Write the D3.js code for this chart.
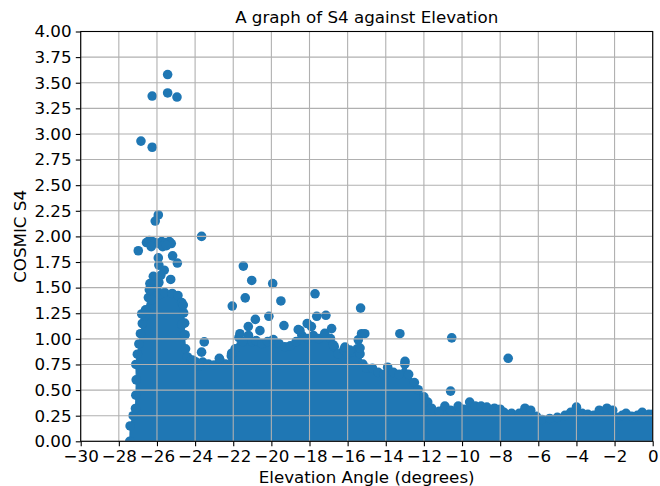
<!DOCTYPE html>
<html>
<head>
<meta charset="utf-8">
<script src="https://cdn.jsdelivr.net/npm/d3@7"></script>
<style>
  html, body { margin: 0; padding: 0; background: #fff; }
  svg { display: block; }
  text { font-family: "DejaVu Sans", sans-serif; fill: #000; }
</style>
</head>
<body>
<div id="chart"></div>
<script>
// ---------------- data ----------------
const titleText = "A graph of S4 against Elevation";
const xLabelText = "Elevation Angle (degrees)";
const yLabelText = "COSMIC S4";

const xTickValues = [-30, -28, -26, -24, -22, -20, -18, -16, -14, -12, -10, -8, -6, -4, -2, 0];
const yTickValues = [0, 0.25, 0.5, 0.75, 1, 1.25, 1.5, 1.75, 2, 2.25, 2.5, 2.75, 3, 3.25, 3.5, 3.75, 4];

// outline of the dense body of points: left edge (bottom to top)
const leftEdgeX = [-27.68, -27.66, -27.5, -27.38, -27.36, -27.34, -27.36, -27.28, -27.2, -27.12, -27.02, -26.9];
const leftEdgeY = [0, 0.15, 0.25, 0.32, 0.45, 0.6, 0.75, 0.85, 0.95, 1.05, 1.15, 1.22];

// upper edge of the dense body (left to right)
const topX = [-26.8, -26.6, -26.45, -26.35, -26.2, -26.0, -25.85, -25.6, -25.2, -24.9, -24.7, -24.6, -24.55, -24.55, -24.5, -24.4, -24.2, -23.95, -23.8, -23.6,
  -23.3, -23.0, -22.7, -22.4, -22.1, -21.9, -21.7, -21.5, -21.2, -21.0, -20.8, -20.5, -20.2, -19.9, -19.6, -19.3, -19.0, -18.7, -18.4, -18.1,
  -17.8, -17.5, -17.2, -16.9, -16.7, -16.5, -16.2, -16.0, -15.8, -15.5, -15.35, -15.2, -15.0, -14.7, -14.4, -14.1, -13.9, -13.6, -13.3, -13.0,
  -12.8, -12.5, -12.3, -12.0, -11.8, -11.6, -11.2, -10.9, -10.6, -10.2, -9.9, -9.6, -9.3, -9.0, -8.7, -8.3, -8.0, -7.8, -7.4, -7.0,
  -6.7, -6.4, -6.1, -5.8, -5.4, -5.0, -4.6, -4.3, -4.0, -3.7, -3.4, -3.1, -2.8, -2.4, -2.1, -1.9, -1.6, -1.4, -1.1, -0.8, -0.55, -0.2, 0];
const topY = [1.29, 1.33, 1.45, 1.52, 1.58, 1.55, 1.48, 1.50, 1.49, 1.47, 1.40, 1.30, 1.20, 1.08, 0.95, 0.87, 0.84, 0.82, 0.78, 0.82,
  0.80, 0.79, 0.84, 0.80, 0.88, 0.95, 1.06, 1.02, 1.08, 1.02, 1.03, 1.00, 1.02, 1.04, 1.00, 0.97, 0.98, 1.02, 1.08, 1.05,
  1.08, 1.05, 1.10, 1.05, 0.97, 0.90, 0.94, 0.90, 0.92, 0.95, 0.90, 0.80, 0.76, 0.76, 0.72, 0.70, 0.77, 0.72, 0.70, 0.80,
  0.70, 0.62, 0.55, 0.48, 0.43, 0.37, 0.34, 0.39, 0.35, 0.39, 0.36, 0.43, 0.39, 0.39, 0.38, 0.37, 0.36, 0.33, 0.32, 0.32,
  0.37, 0.35, 0.29, 0.26, 0.27, 0.28, 0.30, 0.33, 0.38, 0.32, 0.31, 0.30, 0.35, 0.37, 0.35, 0.28, 0.30, 0.32, 0.29, 0.30, 0.33, 0.31, 0.31];

// isolated points above the dense body
const pointX = [-25.44, -26.25, -25.44, -24.95, -26.84, -26.25, -25.93, -26.09, -23.66,
  -26.55, -26.4, -26.25, -26.1, -25.9, -25.75, -25.55, -25.35, -25.25, -26.3, -25.7, -25.5,
  -26.98, -25.93, -25.18, -24.93, -25.9, -25.62, -26.19, -25.28, -26.37, -25.9, -26.40, -25.8, -26.28, -24.62, -24.7, -24.53,
  -21.47, -21.03, -19.93, -21.37, -19.50, -17.71, -22.05, -20.13, -20.84, -19.34, -18.12, -17.62, -17.14, -16.84, -18.5,
  -21.21, -21.65, -18.59, -23.52, -23.66, -22.73, -22.08, -24.1, -20.6, -17.9,
  -15.32, -15.27, -15.1, -15.44, -15.35, -15.88, -16.75, -16.14, -13.26, -12.99, -10.54, -10.6, -7.58];
const pointY = [3.58, 3.37, 3.40, 3.36, 2.93, 2.87, 2.21, 2.15, 2.00,
  1.94, 1.96, 1.95, 1.94, 1.93, 1.95, 1.94, 1.95, 1.93, 1.90, 1.90, 1.91,
  1.86, 1.79, 1.81, 1.74, 1.72, 1.67, 1.61, 1.58, 1.54, 1.55, 1.48, 1.62, 1.38, 1.33, 1.14, 1.04,
  1.71, 1.57, 1.54, 1.40, 1.37, 1.44, 1.32, 1.22, 1.19, 1.13, 1.15, 1.22, 1.23, 1.10, 1.08,
  1.12, 1.05, 1.09, 0.97, 0.87, 0.81, 0.86, 0.79, 1.08, 1.12,
  1.30, 1.05, 1.05, 0.99, 0.91, 0.89, 0.94, 0.92, 1.05, 0.78, 1.01, 0.49, 0.81];

// ---------------- layout ----------------
const W = 660, H = 486;
const margin = { left: 80.7, right: W - 652.7, top: 31.5, bottom: H - 441.3 };
const iw = W - margin.left - margin.right;
const ih = H - margin.top - margin.bottom;
const blue = "#1f77b4";
const R = 4.8;

const svg = d3.select("#chart").append("svg").attr("width", W).attr("height", H);
const g = svg.append("g").attr("transform", `translate(${margin.left},${margin.top})`);

const x = d3.scaleLinear().domain([-30, 0]).range([0, iw]);
const y = d3.scaleLinear().domain([0, 4]).range([ih, 0]);

svg.append("defs").append("clipPath").attr("id", "plotclip")
  .append("rect").attr("x", 0).attr("y", 0).attr("width", iw).attr("height", ih);

const plot = g.append("g").attr("clip-path", "url(#plotclip)");

// dense body: left edge (shifted right by marker radius), top (shifted down by radius)
const leftPts = leftEdgeX.map((v, i) => [x(v) + R, y(leftEdgeY[i])]);
const topPts = topX.map((v, i) => [x(v), y(topY[i]) + R]);
const poly = leftPts.concat(topPts).concat([[x(0), y(0) + R], [x(leftEdgeX[0]) + R, y(0) + R]]);

plot.append("path")
  .attr("d", d3.line()(poly) + "Z")
  .attr("fill", blue)
  .attr("stroke", blue)
  .attr("stroke-width", 1);

plot.append("g").selectAll("circle")
  .data(leftPts.concat(topPts))
  .join("circle")
  .attr("cx", d => d[0]).attr("cy", d => d[1]).attr("r", R)
  .attr("fill", blue);

plot.append("g").selectAll("circle")
  .data(pointX.map((v, i) => [v, pointY[i]]))
  .join("circle")
  .attr("cx", d => x(d[0])).attr("cy", d => y(d[1])).attr("r", R)
  .attr("fill", blue);

// grid (drawn above points, like matplotlib)
const grid = g.append("g");
grid.selectAll("line.gx").data(xTickValues).join("line")
  .attr("x1", d => x(d)).attr("x2", d => x(d)).attr("y1", 0).attr("y2", ih)
  .attr("stroke", "#b0b0b0").attr("stroke-width", 1.1);
grid.selectAll("line.gy").data(yTickValues).join("line")
  .attr("y1", d => y(d)).attr("y2", d => y(d)).attr("x1", 0).attr("x2", iw)
  .attr("stroke", "#b0b0b0").attr("stroke-width", 1.1);

// axes
const fmtX = d3.format("d");
const fmtY = d3.format(".2f");
const xAxis = d3.axisBottom(x).tickValues(xTickValues).tickFormat(fmtX).tickSize(4.9).tickPadding(4.2);
const yAxis = d3.axisLeft(y).tickValues(yTickValues).tickFormat(fmtY).tickSize(4.9).tickPadding(4.2);

const gx = g.append("g").attr("transform", `translate(0,${ih})`).call(xAxis);
const gy = g.append("g").call(yAxis);
[gx, gy].forEach(a => {
  a.select(".domain").remove();
  a.selectAll(".tick line").attr("stroke", "#000").attr("stroke-width", 1.1);
  a.selectAll(".tick text").attr("font-family", "DejaVu Sans").attr("font-size", 16.7).attr("fill", "#000");
});

// spines
g.append("rect").attr("x", 0).attr("y", 0).attr("width", iw).attr("height", ih)
  .attr("fill", "none").attr("stroke", "#000").attr("stroke-width", 1.1);

// title and labels
svg.append("text").attr("x", margin.left + iw / 2).attr("y", 23)
  .attr("text-anchor", "middle").attr("font-size", 16.7).text(titleText);
svg.append("text").attr("x", margin.left + iw / 2).attr("y", 483)
  .attr("text-anchor", "middle").attr("font-size", 16.7).text(xLabelText);
svg.append("text").attr("transform", `translate(26,${margin.top + ih / 2}) rotate(-90)`)
  .attr("text-anchor", "middle").attr("font-size", 16.7).text(yLabelText);
</script>
</body>
</html>
